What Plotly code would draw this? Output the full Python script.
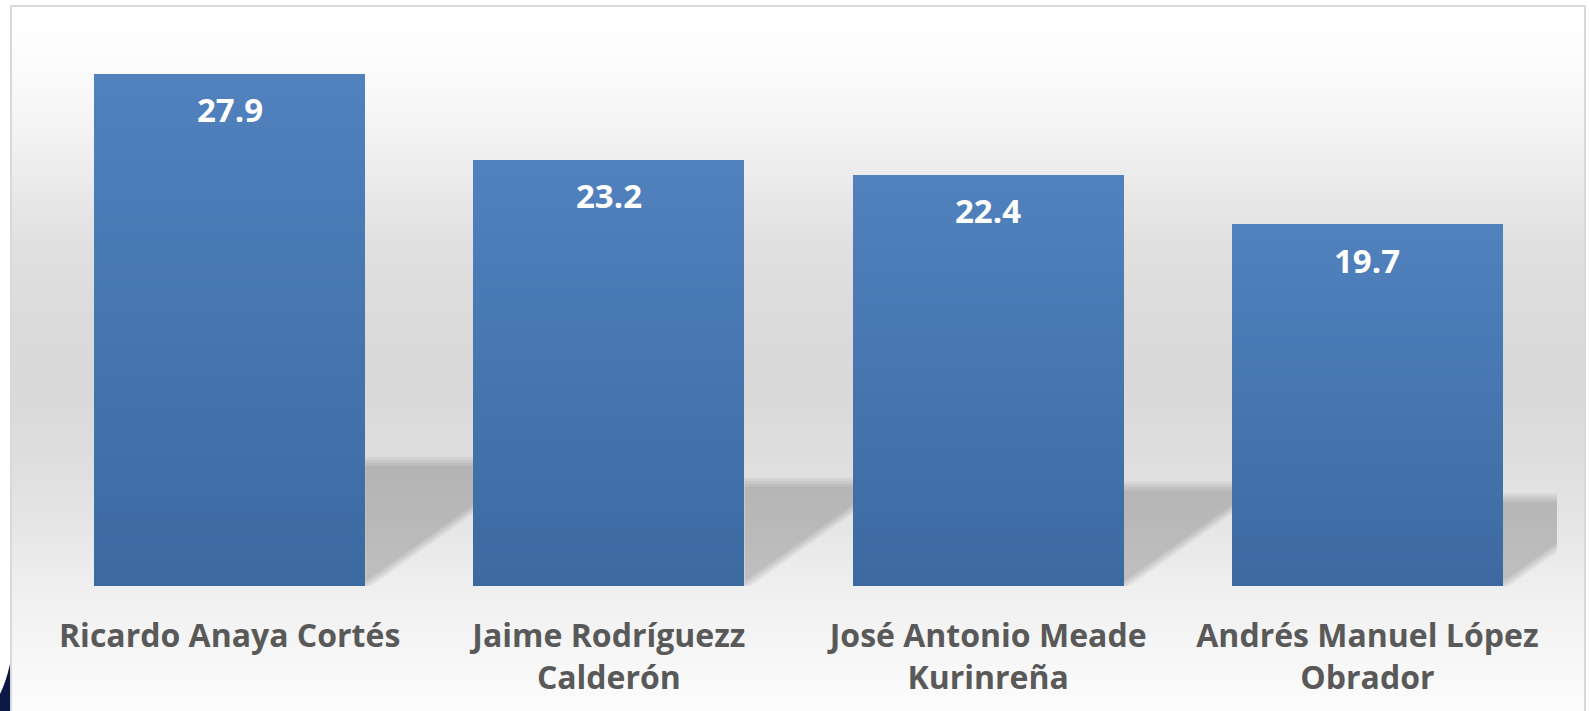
import plotly.graph_objects as go

# ---------------- data ----------------
candidates = [
    "Ricardo Anaya Cortés",
    "Jaime Rodríguezz<br>Calderón",
    "José Antonio Meade<br>Kurinreña",
    "Andrés Manuel López<br>Obrador",
]
values = [27.9, 23.2, 22.4, 19.7]
value_labels = ["27.9", "23.2", "22.4", "19.7"]

# ---------------- geometry / style ----------------
W, H = 1589, 711
ML, MR, MT, MB = 40, 32, 35, 125
PW, PH = W - ML - MR, H - MT - MB
YMAX = 30.0
BARGAP = 0.285
BAR_W = 1 - BARGAP

TOP_COL = (81, 130, 190)
BOT_COL = (60, 105, 160)
NSEG = 40


def px2paper_x(px):
    return (px - ML) / PW


def px2paper_y(py):
    return (H - MB - py) / PH


def mix(c1, c2, t):
    return "rgb(%d,%d,%d)" % tuple(round(a + (b - a) * t) for a, b in zip(c1, c2))


fig = go.Figure()

# stacked thin segments give each bar a vertical gradient
for k in range(NSEG):
    t = (k + 0.5) / NSEG
    fig.add_trace(go.Bar(
        x=list(range(len(values))),
        y=[v / NSEG for v in values],
        marker=dict(color=mix(BOT_COL, TOP_COL, t), line=dict(width=0)),
        showlegend=False,
        hoverinfo="skip",
    ))

shapes = []

# background vertical gradient (chart area)
stops = [(6, 255), (60, 252), (120, 245), (180, 235), (240, 225), (300, 220),
         (380, 217), (450, 221), (520, 229), (586, 239), (650, 246), (711, 252)]


def grey_at(py):
    for (y0, g0), (y1, g1) in zip(stops, stops[1:]):
        if y0 <= py <= y1:
            return g0 + (g1 - g0) * (py - y0) / (y1 - y0)
    return stops[-1][1]


step = 2
py = 7
while py < H:
    g = round(grey_at(py + step / 2))
    shapes.append(dict(
        type="rect", xref="paper", yref="paper", layer="below",
        x0=px2paper_x(12), x1=px2paper_x(1585),
        y0=px2paper_y(py + step + 0.5), y1=px2paper_y(py),
        fillcolor="rgb(%d,%d,%d)" % (g, g, g), line=dict(width=0),
    ))
    py += step

# frame
shapes.append(dict(
    type="rect", xref="paper", yref="paper", layer="below",
    x0=px2paper_x(11), x1=px2paper_x(1585), y0=px2paper_y(720), y1=px2paper_y(6),
    line=dict(color="#d9d9d9", width=2), fillcolor="rgba(0,0,0,0)",
))

# perspective shadows behind the bars (derived from the bar values)
ypx = PH / YMAX                 # pixels per y unit
xpx = PW / len(values)          # pixels per category
SLOPE = 0.71 * xpx / ypx        # y units per x unit
SH_FRAC = 0.24
layers = [(-6, -6), (-3, -2), (0, 2), (3, 6)]
for i, v in enumerate(values):
    R = i + BAR_W / 2
    x_end = (i + 1 - BAR_W / 2 + 0.05) if i < len(values) - 1 else len(values) - 0.5
    for ot, od in layers:
        T = SH_FRAC * v - ot / ypx
        x_start = R + od / xpx
        x_meet = x_start + T / SLOPE
        if x_meet < x_end:
            pts = [(R, T), (x_meet, T), (x_start, 0), (R, 0)]
        else:
            pts = [(R, T), (x_end, T), (x_end, SLOPE * (x_end - x_start)), (x_start, 0), (R, 0)]
        path = "M " + " L ".join("%f,%f" % p for p in pts) + " Z"
        shapes.append(dict(
            type="path", xref="x", yref="y", layer="below", path=path,
            fillcolor="rgba(0,0,0,0.052)", line=dict(width=0),
        ))

# dark decoration bottom-left
p = lambda x, y: "%f,%f" % (px2paper_x(x), px2paper_y(y))
shapes.append(dict(
    type="path", xref="paper", yref="paper", layer="above",
    path="M %s L %s L %s L %s Q %s %s Z" % (p(10, 664), p(10, 712), p(0, 712), p(0, 694), p(6, 682), p(10, 664)),
    fillcolor="#0b1843", line=dict(width=0),
))

annotations = []
for i, (v, lab) in enumerate(zip(values, value_labels)):
    annotations.append(dict(
        x=i, y=v, xref="x", yref="y", text=lab, showarrow=False,
        yanchor="middle", yshift=-36,
        font=dict(family="Open Sans", size=33, color="white", weight="bold"),
    ))

fig.update_layout(
    width=W, height=H,
    margin=dict(l=ML, r=MR, t=MT, b=MB),
    barmode="stack", bargap=BARGAP,
    paper_bgcolor="white", plot_bgcolor="rgba(0,0,0,0)",
    shapes=shapes, annotations=annotations,
    showlegend=False,
    xaxis=dict(
        tickmode="array", tickvals=list(range(len(values))), ticktext=candidates,
        range=[-0.5, len(values) - 0.5], showgrid=False, zeroline=False, showline=False,
        ticks="", ticklabelstandoff=28,
        tickfont=dict(family="Open Sans", size=32, color="#595959", weight="bold"),
    ),
    yaxis=dict(range=[0, YMAX], visible=False),
)

fig.write_html(
    "out.html",
    config={"displayModeBar": False},
    post_script="document.body.style.margin='0';document.body.style.padding='0';",
)
